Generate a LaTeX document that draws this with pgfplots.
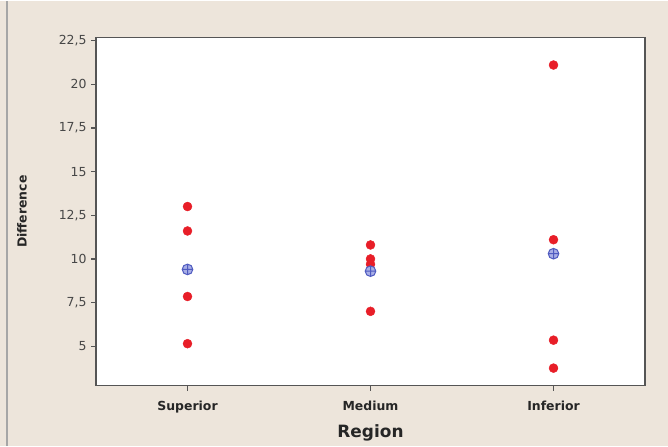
\documentclass[border=0pt]{standalone}
\usepackage{pgfplots}
\pgfplotsset{compat=1.18}
\usepackage{fontspec}
\setmainfont{DejaVu Sans}
\definecolor{bg}{HTML}{EDE5DB}
\definecolor{dotred}{HTML}{E81E28}
\definecolor{meanblue}{HTML}{4F5BC0}
\definecolor{meanfill}{HTML}{A8AEE6}
\definecolor{axgray}{HTML}{555555}
\begin{document}
\begin{tikzpicture}[x=1bp,y=1bp]
\fill[bg] (0,0) rectangle (668,445);
\draw[gray!70, line width=1.2bp] (7,0) -- (7,445);
\useasboundingbox (0,0) rectangle (668,445);
\begin{axis}[
  at={(96bp,60bp)}, anchor=south west,
  width=549bp, height=348bp, scale only axis,
  xmin=-0.5, xmax=2.5, ymin=2.75, ymax=22.67,
  axis background/.style={fill=white},
  axis line style={axgray, line width=1.5bp},
  xtick={0,1,2}, xticklabels={Superior,Medium,Inferior},
  ytick={5,7.5,10,12.5,15,17.5,20,22.5},
  yticklabels={5,{7,5},10,{12,5},15,{17,5},20,{22,5}},
  tick align=outside, major tick length=5bp,
  tick style={axgray, line width=1.2bp},
  xtick pos=bottom, ytick pos=left,
  x tick label style={font=\fontsize{12.5}{14}\selectfont\bfseries, text=black!85, yshift=-7bp},
  y tick label style={font=\fontsize{12.5}{14}\selectfont, text=black!72, xshift=-1bp},
  xlabel={Region}, ylabel={Difference},
  every axis x label/.style={at={(axis description cs:0.5,-0.135)}, anchor=center},
  every axis y label/.style={at={(axis description cs:-0.135,0.5)}, rotate=90, anchor=center},
  xlabel style={font=\fontsize{17}{20}\selectfont\bfseries, text=black!85},
  ylabel style={font=\fontsize{12.5}{14}\selectfont\bfseries, text=black!85},
  clip=false,
]
\addplot[only marks, mark=*, mark size=4.5bp, color=dotred, mark options={draw=dotred, fill=dotred}] coordinates {
  (0,13.0) (0,11.6) (0,7.85) (0,5.15)
  (1,10.8) (1,10.0) (1,9.7) (1,7.0)
  (2,21.1) (2,11.1) (2,5.35) (2,3.75)
};
\addplot[only marks, mark=oplus*, mark size=5.3bp, color=meanblue, mark options={draw=meanblue, fill=meanfill, line width=1bp}] coordinates {
  (0,9.4) (1,9.3) (2,10.3)
};
\end{axis}
\end{tikzpicture}
\end{document}
